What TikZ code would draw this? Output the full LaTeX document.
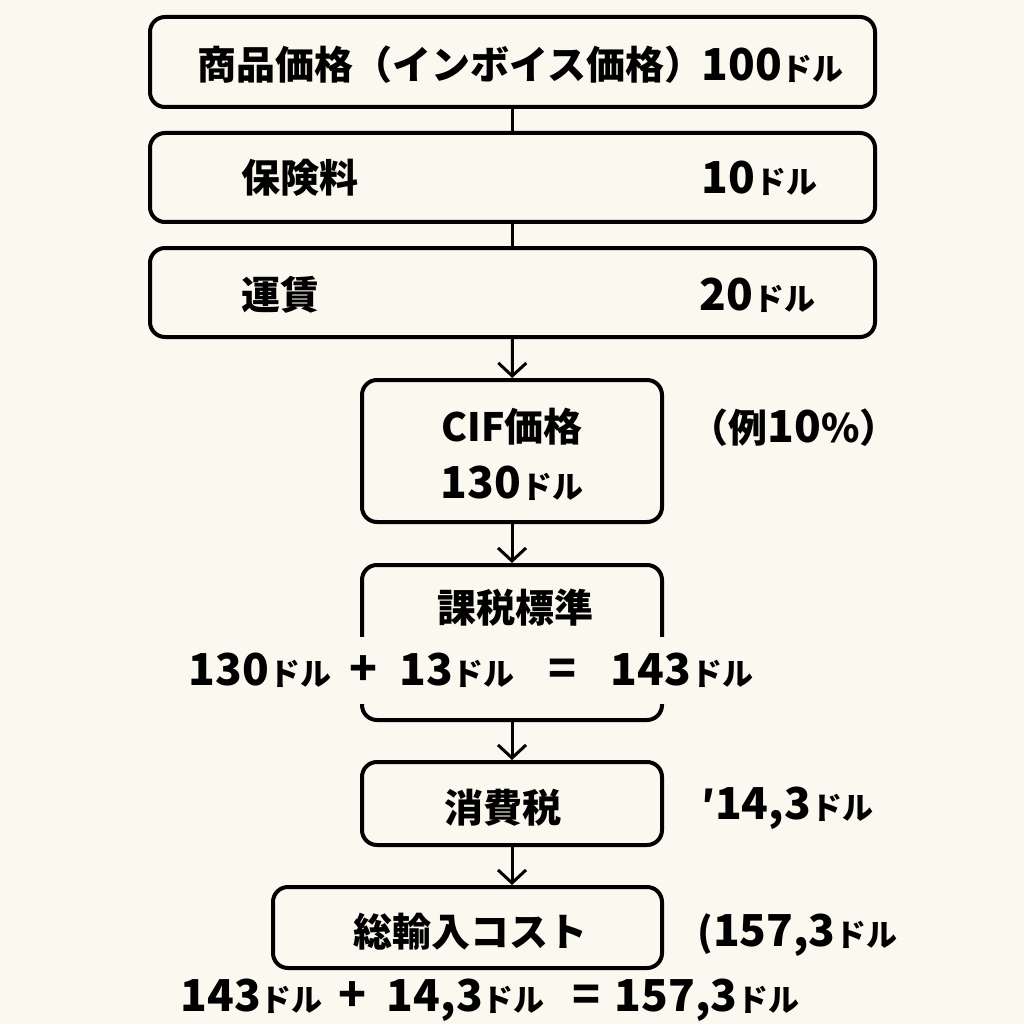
\documentclass[tikz,border=0pt]{standalone}
\usepackage{fontspec}
\setmainfont{Noto Sans CJK JP}
\usepackage{tikz}
\usetikzlibrary{arrows.meta}
\usetikzlibrary{positioning}
\usepackage{xcolor}
\definecolor{paper}{HTML}{FBF8EF}
\newcommand{\dol}{{\fontsize{31}{31}\selectfont ドル}}
\newcommand{\amt}[1]{{\fontsize{44}{44}\selectfont #1}\dol}
\newcommand{\op}[1]{{\fontsize{46}{46}\selectfont #1}}

\begin{document}
\begin{tikzpicture}[
    x=1pt, y=-1pt,
    line width=3pt,
    >={Straight Barb[length=13pt, width=28pt, line width=3pt]},
    box/.style={draw, rounded corners=15pt, line width=4pt},
    every node/.style={font=\fontsize{39}{44}\selectfont\bfseries, inner sep=0pt}
]

% Background
\fill[paper] (0,0) rectangle (1024,1024);
\useasboundingbox (0,0) rectangle (1024,1024);

% Boxes
\node[box, minimum width=725pt, minimum height=90pt] (price) at (512.5,62) {};
\node[box, minimum width=725pt, minimum height=89pt] (ins) at (512.5,177.5) {};
\node[box, minimum width=725pt, minimum height=89pt] (fare) at (512.5,292.5) {};
\node[box, minimum width=300pt, minimum height=142pt] (cif) at (512,451) {};
\node[box, minimum width=300pt, minimum height=155pt] (base) at (512,642.5) {};
\node[box, minimum width=300pt, minimum height=83pt] (tax) at (512,803.5) {};
\node[box, minimum width=389pt, minimum height=81pt] (total) at (467.5,927.5) {};

% Texts in boxes
\node[anchor=west] (priceL) at (196,65) {商品価格（インボイス価格）};
\node[anchor=west] (priceR) at (700,65) {\amt{100}};
\node[anchor=west] (insL) at (240,178) {保険料};
\node[anchor=west] (insR) at (700,178) {\amt{10}};
\node[anchor=west] (fareL) at (240,295) {運賃};
\node[anchor=west] (fareR) at (698,295) {\amt{20}};
\node (cifA) at (512,427) {CIF価格};
\node (cifB) at (512,483) {\amt{130}};
\node (baseT) at (515,608) {課税標準};
\node[fill=paper, minimum height=67pt, inner xsep=4pt] (baseEq) at (471,670)
  {\amt{130}\hspace{18pt}\op{+}\hspace{22pt}\amt{13}\hspace{34pt}\op{=}\hspace{34pt}\amt{143}};
\node (taxT) at (503,808) {消費税};
\node (totalT) at (470,932) {総輸入コスト};

% Side notes
\node[anchor=west] (rate) at (688,428) {（例{\fontsize{44}{44}\selectfont 10}\%）};
\node[anchor=west] (taxV) at (700,808) {′\amt{14,3}};
\node[anchor=west] (totalV) at (696,935) {(\amt{157,3}};
\node (sum) at (490,1000)
  {\amt{143}\hspace{16pt}\op{+}\hspace{20pt}\amt{14,3}\hspace{28pt}\op{=}\hspace{14pt}\amt{157,3}};

% Connectors
\draw (price) -- (ins);
\draw (ins) -- (fare);
\draw[->] (fare) -- (cif);
\draw[->] (cif) -- (base);
\draw[->] (base) -- (tax);
\draw[->] (tax.south) -- (tax.south |- total.north);

\end{tikzpicture}
\end{document}
